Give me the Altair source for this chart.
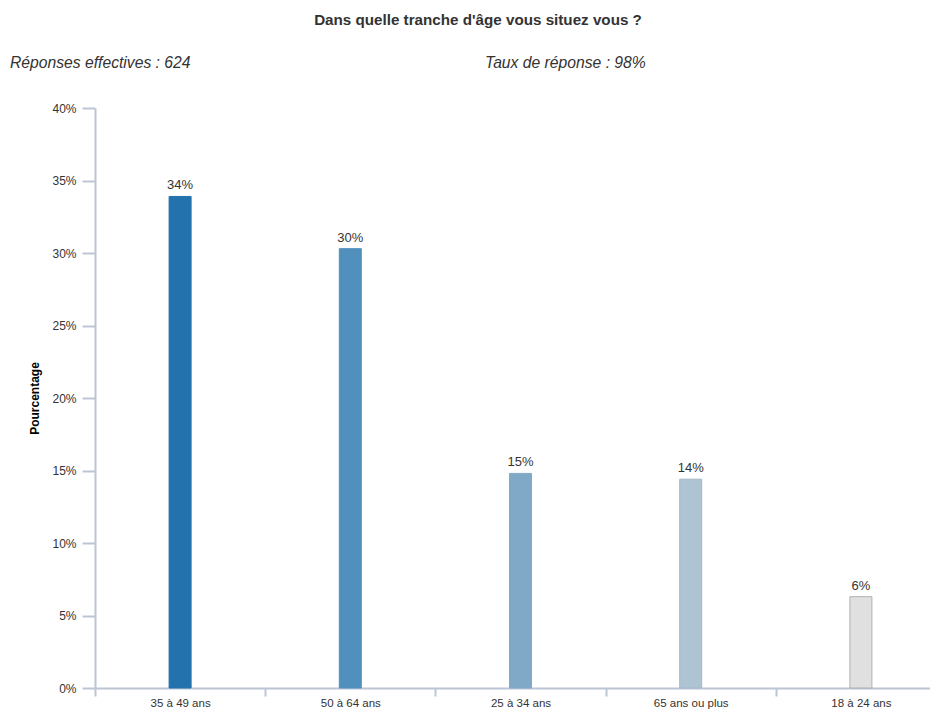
import altair as alt
import pandas as pd

categories = ["35 à 49 ans", "50 à 64 ans", "25 à 34 ans", "65 ans ou plus", "18 à 24 ans"]
values = [0.339, 0.303, 0.148, 0.144, 0.063]
bar_colors = ["#2372ad", "#5190bd", "#80a9c7", "#aec4d3", "#e0e0e0"]
bar_strokes = ["#2372ad", "#5190bd", "#80a9c7", "#a3b8c8", "#b0b0b0"]
y_ticks = [0, 0.05, 0.10, 0.15, 0.20, 0.25, 0.30, 0.35, 0.40]

title_text = "Dans quelle tranche d'âge vous situez vous ?"
sub_left = "Réponses effectives : 624"
sub_right = "Taux de réponse : 98%"

FONT = "Liberation Sans"
W, H = 835, 580

df = pd.DataFrame({"cat": categories, "val": values})

base = alt.Chart(df)

bars = base.mark_bar(size=22, strokeWidth=1).encode(
    x=alt.X("cat:N", sort=categories, title=None,
            scale=alt.Scale(paddingInner=0, paddingOuter=0, range=[0, 851]),
            axis=alt.Axis(labelAngle=0, tickBand="extent", tickSize=8, labelPadding=1,
                          labelFontSize=11.5, domainWidth=2, tickWidth=2,
                          labelBound=False, labelOverlap=False, labelFlush=False,
                          labelAlign="center")),
    y=alt.Y("val:Q", title="Pourcentage",
            scale=alt.Scale(domain=[0, 0.4], nice=False),
            axis=alt.Axis(values=y_ticks, format=".0%", tickSize=13, labelPadding=6,
                          labelFontSize=12, titleFontSize=12, titleFontWeight="bold",
                          titleColor="#000", titlePadding=10, domainWidth=2, tickWidth=2)),
    color=alt.Color("cat:N", sort=categories, legend=None,
                    scale=alt.Scale(domain=categories, range=bar_colors)),
    stroke=alt.Stroke("cat:N", sort=categories, legend=None,
                      scale=alt.Scale(domain=categories, range=bar_strokes)),
)

labels = base.mark_text(dy=-11, fontSize=13, color="#333", font=FONT).encode(
    x=alt.X("cat:N", sort=categories),
    y=alt.Y("val:Q"),
    text=alt.Text("val:Q", format=".0%"),
)

title = alt.Chart(pd.DataFrame({"t": [title_text]})).mark_text(
    fontSize=15.2, fontWeight="bold", color="#333", font=FONT, align="center", baseline="middle"
).encode(x=alt.value(383), y=alt.value(-88), text="t:N")

subl = alt.Chart(pd.DataFrame({"t": [sub_left]})).mark_text(
    fontSize=15.7, fontStyle="italic", color="#333", font=FONT, align="left", baseline="middle"
).encode(x=alt.value(-85), y=alt.value(-45), text="t:N")

subr = alt.Chart(pd.DataFrame({"t": [sub_right]})).mark_text(
    fontSize=15.7, fontStyle="italic", color="#333", font=FONT, align="left", baseline="middle"
).encode(x=alt.value(390), y=alt.value(-45), text="t:N")

chart = alt.layer(bars, labels, title, subl, subr).properties(
    width=W, height=H,
    autosize=alt.AutoSizeParams(type="none"),
    padding={"left": 87, "top": 100, "right": 0, "bottom": 22},
).configure_view(stroke=None).configure_axis(
    grid=False, domainColor="#bcc5d6", tickColor="#bcc5d6",
    labelColor="#333", labelFont=FONT, titleFont=FONT,
)

chart.save("out.html", embed_options={"renderer": "svg", "actions": False})
